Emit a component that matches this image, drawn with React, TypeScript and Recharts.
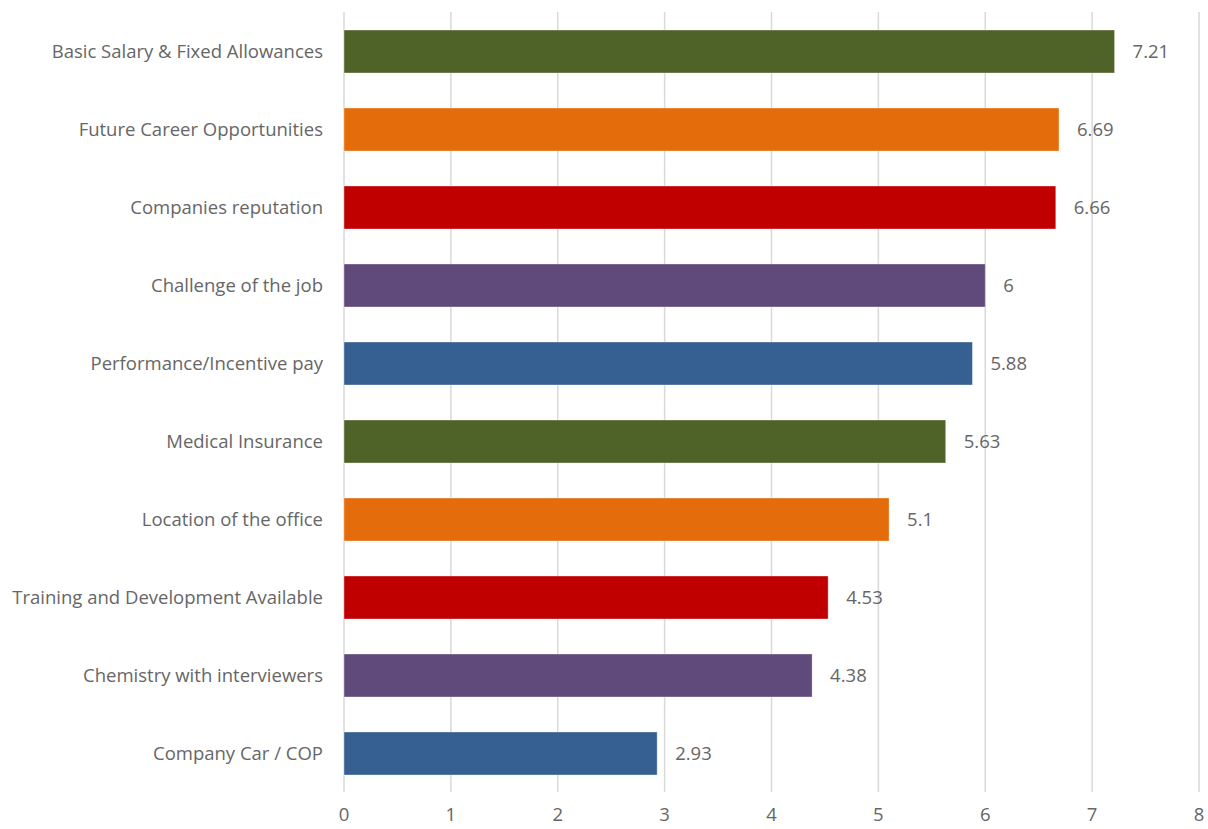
import React from 'react';
import { BarChart, Bar, XAxis, YAxis, CartesianGrid, Cell, LabelList } from 'recharts';

const factors = [
  'Basic Salary & Fixed Allowances',
  'Future Career Opportunities',
  'Companies reputation',
  'Challenge of the job',
  'Performance/Incentive pay',
  'Medical Insurance',
  'Location of the office',
  'Training and Development Available',
  'Chemistry with interviewers',
  'Company Car / COP',
];
const scores = [7.21, 6.69, 6.66, 6, 5.88, 5.63, 5.1, 4.53, 4.38, 2.93];
const barColors = ['#4f6228', '#e46c0a', '#c00000', '#604a7b', '#366092'];
const xTicks = [0, 1, 2, 3, 4, 5, 6, 7, 8];

const data = factors.map((name, i) => ({ name, score: scores[i] }));

const FONT = '"Open Sans", sans-serif';
const TEXT = '#666666';

export default function App() {
  return (
    <div style={{ position: 'absolute', left: 0, top: 0, background: '#fff' }}>
      <BarChart
        width={1208}
        height={829}
        layout="vertical"
        data={data}
        barSize={43}
        margin={{ top: 12, right: 9, bottom: 0, left: 0 }}
      >
        <CartesianGrid horizontal={false} stroke="#d9d9d9" strokeWidth={1.5} />
        <XAxis
          type="number"
          domain={[0, 8]}
          ticks={xTicks}
          axisLine={false}
          tickLine={false}
          height={37}
          tickMargin={10}
          tick={{ fill: TEXT, fontSize: 18.5, fontFamily: FONT }}
        />
        <YAxis
          type="category"
          dataKey="name"
          width={344}
          axisLine={false}
          tickLine={false}
          tickMargin={15}
          interval={0}
          tick={{ fill: TEXT, fontSize: 18.5, fontFamily: FONT }}
        />
        <Bar dataKey="score" isAnimationActive={false} strokeWidth={1}>
          {data.map((d, i) => (
            <Cell key={d.name} fill={barColors[i % barColors.length]} stroke="rgba(255,255,255,0.35)" />
          ))}
          <LabelList
            dataKey="score"
            position="right"
            offset={18}
            fill={TEXT}
            fontSize={18.5}
            fontFamily={FONT}
          />
        </Bar>
      </BarChart>
    </div>
  );
}
